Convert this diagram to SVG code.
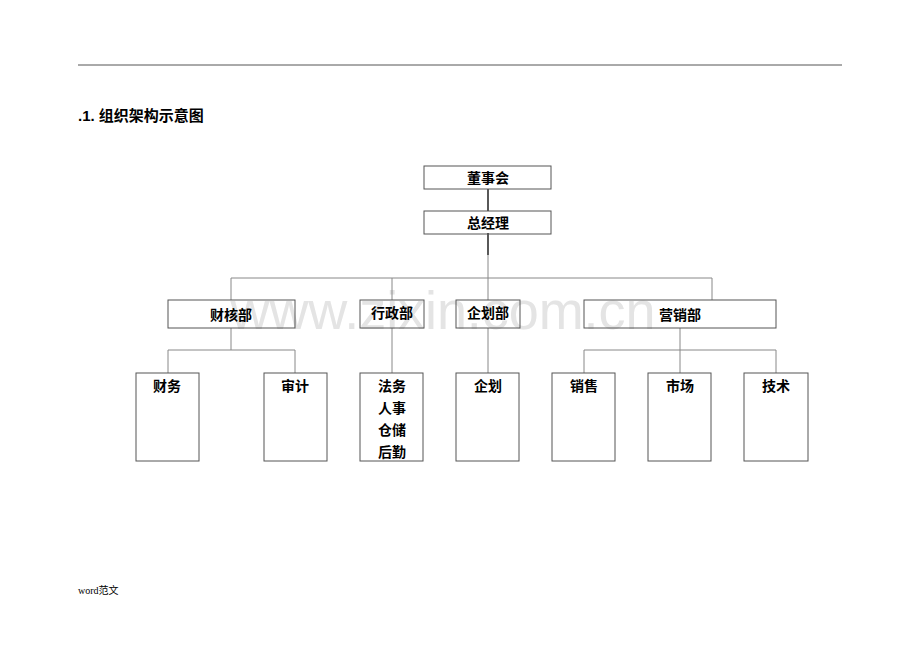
<svg xmlns="http://www.w3.org/2000/svg" width="920" height="651" viewBox="0 0 920 651">
<style>
.b{fill:none;stroke:#555;stroke-width:1}
.t{font-family:"Liberation Sans","Noto Sans CJK SC",sans-serif;font-size:14px;font-weight:bold;fill:#000;text-anchor:middle}
.g{fill:none;stroke:#888;stroke-width:1}
.k{fill:none;stroke:#000;stroke-width:1.3}
</style>
<rect width="920" height="651" fill="#fff"/>
<line x1="78" y1="65" x2="842" y2="65" stroke="#555"/>
<text x="78" y="121" font-family="Liberation Sans,Noto Sans CJK SC,sans-serif" font-size="15" font-weight="bold">.1. 组织架构示意图</text>
<text x="78" y="594" font-family="Liberation Serif,Noto Sans CJK SC,serif" font-size="10">word范文</text>
<text x="443" y="329" font-family="Liberation Sans,sans-serif" font-size="54" fill="#e4e4e4" text-anchor="middle" textLength="425">www.zixin.com.cn</text>
<g id="connectors">
<path class="k" d="M488 189V211M488 233V255"/>
<path class="g" d="M488 255V278M231 300V278H712V300M392 278V300M488 278V300"/>
<path class="g" d="M231 328V350M168 373V350H295V373M392 328V373M488 328V373M680 328V373M584 373V350H776V373"/>
</g>
<g id="n1"><rect class="b" x="424" y="166" width="127" height="23"/><text class="t" x="488" y="183">董事会</text></g>
<g id="n2"><rect class="b" x="424" y="211" width="127" height="23"/><text class="t" x="488" y="228">总经理</text></g>
<g id="n3"><rect class="b" x="168" y="300" width="127" height="28"/><text class="t" x="231" y="320">财核部</text></g>
<g id="n4"><rect class="b" x="360" y="300" width="64" height="28"/><text class="t" x="392" y="318">行政部</text></g>
<g id="n5"><rect class="b" x="456" y="300" width="64" height="28"/><text class="t" x="488" y="318">企划部</text></g>
<g id="n6"><rect class="b" x="584" y="300" width="192" height="28"/><text class="t" x="680" y="320">营销部</text></g>
<g id="n7"><rect class="b" x="136" y="373" width="63" height="88"/><text class="t" x="167" y="391">财务</text></g>
<g id="n8"><rect class="b" x="264" y="373" width="63" height="88"/><text class="t" x="295" y="391">审计</text></g>
<g id="n9"><rect class="b" x="360" y="373" width="63" height="88"/><text class="t" x="392" y="391">法务</text><text class="t" x="392" y="413">人事</text><text class="t" x="392" y="435">仓储</text><text class="t" x="392" y="457">后勤</text></g>
<g id="n10"><rect class="b" x="456" y="373" width="63" height="88"/><text class="t" x="488" y="391">企划</text></g>
<g id="n11"><rect class="b" x="552" y="373" width="63" height="88"/><text class="t" x="584" y="391">销售</text></g>
<g id="n12"><rect class="b" x="648" y="373" width="63" height="88"/><text class="t" x="680" y="391">市场</text></g>
<g id="n13"><rect class="b" x="744" y="373" width="64" height="88"/><text class="t" x="776" y="391">技术</text></g>
</svg>
